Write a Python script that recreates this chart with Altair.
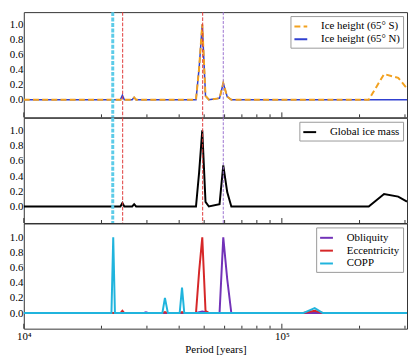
import altair as alt
import pandas as pd

FONT = "Liberation Serif"

# ---------------- data ----------------
# Panel 1: ice height
s_period = [10000, 26300, 26770, 27240, 46480, 47800, 49160, 50600, 52140,
            57350, 59290, 61410, 63710, 217100, 248900, 282400, 305500]
s_value = [0, 0, 0.03, 0, 0, 0.42, 1.0, 0.05, 0,
           0.02, 0.22, 0.04, 0, 0, 0.34, 0.29, 0.15]
n_period = [10000, 23680, 24100, 24520, 26300, 26770, 27240, 46480, 47800,
            49160, 50600, 52140, 57350, 59290, 61410, 63710, 305500]
n_value = [0, 0, 0.06, 0, 0, 0.03, 0, 0, 0.42,
           1.0, 0.05, 0, 0.02, 0.22, 0.04, 0, 0]

# Panel 2: global ice mass
g_period = [10000, 23680, 24100, 24520, 26300, 26770, 27240, 46480, 47800,
            49160, 50600, 52140, 57350, 59290, 61410, 63710, 217100, 248900,
            282400, 305500]
g_value = [0, 0, 0.045, 0, 0, 0.03, 0, 0, 0.45,
           1.0, 0.06, 0, 0.03, 0.54, 0.19, 0, 0, 0.165,
           0.13, 0.065]

# Panel 3: orbital forcing
obl_period = [10000, 29000, 29740, 30500, 46480, 49160, 52140, 57350, 59290,
              61410, 63710, 305500]
obl_value = [0, 0, 0.012, 0, 0, 0.02, 0, 0, 1.0,
             0.45, 0, 0]
ecc_period = [10000, 23680, 24100, 24520, 34430, 35230, 36170, 40180, 41030,
              41870, 46480, 47800, 49160, 50600, 52140, 120950, 134030, 144150,
              305500]
ecc_value = [0, 0, 0.03, 0, 0, 0.012, 0, 0, 0.012,
             0, 0, 0.55, 1.0, 0.03, 0, 0, 0.03, 0,
             0]
copp_period = [10000, 21860, 22210, 22550, 34430, 35230, 36170, 40180, 41030,
               41870, 120950, 134030, 144150, 305500]
copp_value = [0, 0, 1.0, 0, 0, 0.2, 0, 0, 0.335,
              0, 0, 0.065, 0, 0]

# reference lines (periods)
cyan_lines = [22115]
red_lines = [24160, 49330]
purple_lines = [59290]

major_ticks = [10000, 100000]
minor_ticks = [20000, 30000, 40000, 50000, 60000, 70000, 80000, 90000,
               200000, 300000]

S_NAME = "Ice height (65° S)"
N_NAME = "Ice height (65° N)"
G_NAME = "Global ice mass"
LEG3 = ["Obliquity", "Eccentricity", "COPP"]

C_ORANGE = "#f2a11f"
C_BLUE = "#3040d0"
C_PURPLE = "#7232b8"
C_RED = "#d62728"
C_CYAN = "#20b4dd"

# ---------------- layout ----------------
W = 388
H = 106.5
X_DOMAIN = [10000, 305500]
xscale = alt.Scale(type="log", domain=X_DOMAIN, nice=False)


def frame(period, value, name):
    return pd.DataFrame({"period": period, "value": value, "series": name})


def yaxis():
    return alt.Axis(values=[0, 0.2, 0.4, 0.6, 0.8, 1.0], format=".1f",
                    ticks=False, domain=False, grid=False, labelFont=FONT,
                    labelFontSize=11, labelColor="black", labelPadding=1,
                    title=None)


def legend():
    return alt.Legend(orient="top-right", offset=4, title=None,
                      symbolType="stroke", symbolSize=169, symbolStrokeWidth=2,
                      labelFont=FONT, labelFontSize=11, labelColor="black",
                      labelOffset=13, padding=3, rowPadding=0,
                      strokeColor="#999999", fillColor="white", cornerRadius=0)


def xenc(bottom):
    if bottom:
        ax = alt.Axis(values=major_ticks,
                      labelExpr="datum.value == 10000 ? '10⁴' : '10⁵'",
                      ticks=False, domain=False, grid=False, labelFlush=False,
                      labelFont=FONT, labelFontSize=11, labelColor="black",
                      labelPadding=2, title="Period [years]", titleFont=FONT,
                      titleFontSize=11, titleFontWeight="normal",
                      titleColor="black", titlePadding=2)
    else:
        ax = None
    return alt.X("period:Q", scale=xscale, axis=ax)


def tick_layers(bottom):
    maj = alt.Chart(pd.DataFrame({"period": major_ticks})).mark_rule(
        color="#333333", strokeWidth=1).encode(
        x=xenc(bottom), y=alt.value(H), y2=alt.value(H - 5))
    mnr = alt.Chart(pd.DataFrame({"period": minor_ticks})).mark_rule(
        color="#333333", strokeWidth=1).encode(
        x=xenc(bottom), y=alt.value(H), y2=alt.value(H - 3))
    return [maj, mnr]


def vlines():
    out = []
    for vals, col, dash, sw in [(cyan_lines, "#5ccbe8", [4, 1.5], 3),
                                (red_lines, "#e03a3a", [3.7, 1.6], 1),
                                (purple_lines, "#9b72d0", [3, 1.5], 1)]:
        out.append(alt.Chart(pd.DataFrame({"period": vals})).mark_rule(
            color=col, strokeDash=dash, strokeWidth=sw).encode(
            x=xenc(False), y=alt.value(0), y2=alt.value(H)))
    return out


# ---------------- panel 1 ----------------
y1 = alt.Scale(domain=[-0.233, 1.161], nice=False, zero=False)
col1 = alt.Color("series:N", scale=alt.Scale(domain=[S_NAME, N_NAME],
                 range=[C_ORANGE, C_BLUE]), legend=legend())
dash1 = alt.StrokeDash("series:N", scale=alt.Scale(domain=[S_NAME, N_NAME],
                       range=[[6, 3.3], [1, 0]]), legend=legend())
lineN = alt.Chart(frame(n_period, n_value, N_NAME)).mark_line(
    strokeWidth=1.5, clip=True).encode(
    x=xenc(False), y=alt.Y("value:Q", scale=y1, axis=yaxis()),
    color=col1, strokeDash=dash1)
lineS = alt.Chart(frame(s_period, s_value, S_NAME)).mark_line(
    strokeWidth=2, clip=True).encode(
    x=xenc(False), y=alt.Y("value:Q", scale=y1, axis=yaxis()),
    color=col1, strokeDash=dash1)
p1 = alt.layer(lineN, lineS, *vlines(), *tick_layers(False)).properties(
    width=W, height=H)

# ---------------- panel 2 ----------------
y2 = alt.Scale(domain=[-0.217, 1.166], nice=False, zero=False)
col2 = alt.Color("series:N", scale=alt.Scale(domain=[G_NAME], range=["black"]),
                 legend=legend())
lineG = alt.Chart(frame(g_period, g_value, G_NAME)).mark_line(
    strokeWidth=2, clip=True).encode(
    x=xenc(False), y=alt.Y("value:Q", scale=y2, axis=yaxis()), color=col2)
p2 = alt.layer(lineG, *vlines(), *tick_layers(False)).properties(
    width=W, height=H)

# ---------------- panel 3 ----------------
y3 = alt.Scale(domain=[-0.206, 1.183], nice=False, zero=False)
col3 = alt.Color("series:N", scale=alt.Scale(domain=LEG3,
                 range=[C_PURPLE, C_RED, C_CYAN]), legend=legend())
layers3 = []
for per, val, name in [(obl_period, obl_value, LEG3[0]),
                       (ecc_period, ecc_value, LEG3[1]),
                       (copp_period, copp_value, LEG3[2])]:
    layers3.append(alt.Chart(frame(per, val, name)).mark_line(
        strokeWidth=2, clip=True).encode(
        x=xenc(True), y=alt.Y("value:Q", scale=y3, axis=yaxis()), color=col3))
p3 = alt.layer(*layers3, *tick_layers(True)).properties(width=W, height=H)

chart = alt.vconcat(p1, p2, p3, spacing=0, bounds="flush").resolve_scale(
    color="independent", strokeDash="independent", y="independent"
).resolve_legend(color="independent", strokeDash="independent").properties(
    padding={"left": 0, "top": 0, "right": 0, "bottom": 0}
).configure_view(stroke="#333333", strokeWidth=1)

chart.save("out.html", embed_options={"renderer": "svg", "actions": False})
